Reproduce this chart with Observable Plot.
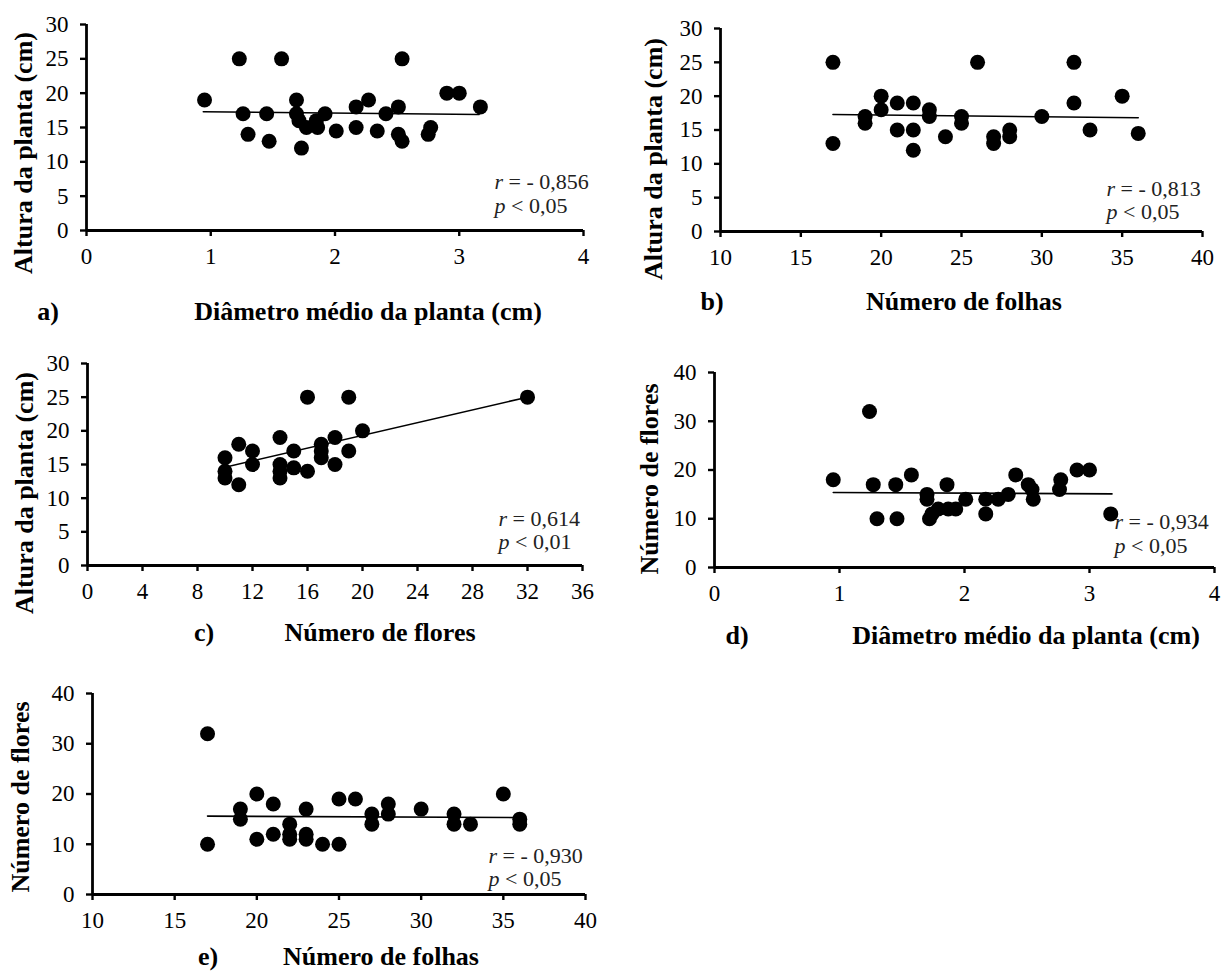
<!DOCTYPE html>
<html>
<head>
<meta charset="utf-8">
<script src="https://cdn.jsdelivr.net/npm/d3@7"></script>
<script src="https://cdn.jsdelivr.net/npm/@observablehq/plot@0.6"></script>
<style>
  html, body { margin: 0; padding: 0; background: #fff; }
  #root { position: relative; width: 1223px; height: 974px; overflow: hidden; font-family: 'Liberation Serif', 'Times New Roman', serif; color: #000; }
  .panel { position: absolute; }
  .lbl { position: absolute; font-weight: bold; font-size: 26px; line-height: 1; white-space: nowrap; transform: translate(-50%, -50%); }
  .ylbl { position: absolute; font-weight: bold; font-size: 26px; line-height: 1; white-space: nowrap; transform: translate(-50%, -50%) rotate(-90deg); }
</style>
</head>
<body>
<div id="root"></div>
<script>
// ---- Data ----
// a) Altura da planta vs Diâmetro médio
const aX = [0.95,1.23,1.57,1.26,1.30,1.45,1.47,1.69,1.69,1.71,1.73,1.77,1.85,1.86,1.92,2.01,2.17,2.17,2.27,2.34,2.41,2.51,2.51,2.54,2.54,2.75,2.77,2.90,3.00,3.17];
const aY = [19,25,25,17,14,17,13,19,17,16,12,15,16,15,17,14.5,18,15,19,14.5,17,18,14,25,13,14,15,20,20,18];
const aFitX = [0.94, 3.16];
const aFitY = [17.3, 16.9];
// b) Altura da planta vs Número de folhas
const bX = [17,17,19,19,20,20,21,21,22,22,22,23,23,24,25,25,26,27,27,28,28,30,32,32,33,35,36];
const bY = [25,13,17,16,20,18,19,15,19,15,12,18,17,14,17,16,25,14,13,15,14,17,25,19,15,20,14.5];
const bFitX = [17, 36];
const bFitY = [17.3, 16.8];
// c) Altura da planta vs Número de flores
const cX = [10,10,10,11,11,12,12,14,14,14,14,15,15,16,16,17,17,17,18,18,19,19,20,32];
const cY = [16,14,13,18,12,17,15,19,15,14,13,17,14.5,25,14,18,17,16,19,15,25,17,20,25];
const cFitX = [10, 32];
const cFitY = [14.6, 25];
// d) Número de flores vs Diâmetro médio
const dX = [0.95,1.24,1.27,1.30,1.45,1.46,1.575,1.70,1.70,1.72,1.74,1.79,1.86,1.87,1.93,2.01,2.17,2.17,2.27,2.35,2.41,2.51,2.54,2.55,2.77,2.76,2.90,3.00,3.17];
const dY = [18,32,17,10,17,10,19,15,14,10,11,12,17,12,12,14,14,11,14,15,19,17,16,14,18,16,20,20,11];
const dFitX = [0.95, 3.18];
const dFitY = [15.4, 15.1];
// e) Número de flores vs Número de folhas
const eX = [17,17,19,19,20,20,21,21,22,22,22,23,23,23,24,25,25,26,27,27,28,28,30,32,32,33,35,36,36];
const eY = [32,10,17,15,20,11,18,12,14,12,11,17,12,11,10,19,10,19,16,14,18,16,17,16,14,14,20,15,14];
const eFitX = [17, 36];
const eFitY = [15.6, 15.3];

// Tick labels
const ticksDiam = [0,1,2,3,4];
const ticksFolhas = [10,15,20,25,30,35,40];
const ticksFlores = [0,4,8,12,16,20,24,28,32,36];
const ticksAltura = [0,5,10,15,20,25,30];
const ticksNFlores = [0,10,20,30,40];

// Texts
const yTitleAltura = "Altura da planta (cm)";
const yTitleFlores = "Número de flores";
const xTitleDiam = "Diâmetro médio da planta (cm)";
const xTitleFolhas = "Número de folhas";
const xTitleFlores = "Número de flores";
const stats = {
  a: ["r", " = - 0,856", "p", " < 0,05"],
  b: ["r", " = - 0,813", "p", " < 0,05"],
  c: ["r", " = 0,614", "p", " < 0,01"],
  d: ["r", " = - 0,934", "p", " < 0,05"],
  e: ["r", " = - 0,930", "p", " < 0,05"]
};

const FONT = "'Liberation Serif', 'Times New Roman', serif";
const root = document.getElementById("root");
const fmt = d => String(d);

function zip(xs, ys) { return xs.map((x, i) => ({x, y: ys[i]})); }

function panel(cfg) {
  const pts = zip(cfg.xs, cfg.ys);
  const fit = zip(cfg.fx, cfg.fy);
  const st = cfg.stats;
  const svg = Plot.plot({
    width: cfg.w, height: cfg.h,
    marginLeft: cfg.ml, marginRight: cfg.mr, marginTop: cfg.mt, marginBottom: cfg.mb,
    x: {domain: [cfg.xt[0], cfg.xt[cfg.xt.length - 1]]},
    y: {domain: [cfg.yt[0], cfg.yt[cfg.yt.length - 1]]},
    style: {fontFamily: FONT, fontSize: "23px", color: "#000", background: "transparent", overflow: "visible"},
    marks: [
      Plot.axisX({ticks: cfg.xt, tickFormat: fmt, tickSize: 6, tickPadding: 11, strokeWidth: 2.4, label: null, fontSize: 23}),
      Plot.axisY({ticks: cfg.yt, tickFormat: fmt, tickSize: 6, tickPadding: 12, strokeWidth: 2.4, label: null, fontSize: 23}),
      Plot.ruleY([cfg.yt[0]], {stroke: "#000", strokeWidth: 2.8}),
      Plot.ruleX([cfg.xt[0]], {stroke: "#000", strokeWidth: 2.8}),
      Plot.line(fit, {x: "x", y: "y", stroke: "#000", strokeWidth: 1.6}),
      Plot.dot(pts, {x: "x", y: "y", r: 7.5, fill: "#000", stroke: "none"}),
      Plot.text([st[0] + st[1]], {frameAnchor: "bottom-right", textAnchor: "start", dx: cfg.adx, dy: cfg.ady1, fontSize: 22, fill: "#222"}),
      Plot.text([st[2] + st[3]], {frameAnchor: "bottom-right", textAnchor: "start", dx: cfg.adx, dy: cfg.ady2, fontSize: 22, fill: "#222"})
    ]
  });
  // italic statistic symbols
  d3.select(svg).selectAll("text").each(function() {
    const t = this.textContent;
    [[st[0], st[1]], [st[2], st[3]]].forEach(([sym, rest]) => {
      if (t === sym + rest) {
        const el = d3.select(this);
        el.selectAll("*").remove();
        el.text(null);
        el.append("tspan").attr("font-style", "italic").text(sym);
        el.append("tspan").text(rest);
      }
    });
  });
  svg.classList.add("panel");
  svg.style.left = cfg.left + "px";
  svg.style.top = cfg.top + "px";
  root.appendChild(svg);

  const add = (cls, text, x, y) => {
    const d = document.createElement("div");
    d.className = cls;
    d.textContent = text;
    d.style.left = x + "px";
    d.style.top = y + "px";
    root.appendChild(d);
  };
  add("ylbl", cfg.ytitle, cfg.yTitlePos[0], cfg.yTitlePos[1]);
  add("lbl", cfg.tag, cfg.tagPos[0], cfg.tagPos[1]);
  add("lbl", cfg.xtitle, cfg.xTitlePos[0], cfg.xTitlePos[1]);
}

// a)
panel({xs: aX, ys: aY, fx: aFitX, fy: aFitY, xt: ticksDiam, yt: ticksAltura, stats: stats.a,
  left: 0, top: 0, w: 600, h: 270, ml: 86, mr: 17, mt: 24, mb: 40,
  adx: -89, ady1: -42, ady2: -18,
  ytitle: yTitleAltura, yTitlePos: [24, 153],
  tag: "a)", tagPos: [48, 312], xtitle: xTitleDiam, xTitlePos: [368, 312]});
// b)
panel({xs: bX, ys: bY, fx: bFitX, fy: bFitY, xt: ticksFolhas, yt: ticksAltura, stats: stats.b,
  left: 600, top: 0, w: 623, h: 270, ml: 120, mr: 21, mt: 28, mb: 39,
  adx: -96, ady1: -36, ady2: -13,
  ytitle: yTitleAltura, yTitlePos: [654, 159],
  tag: "b)", tagPos: [712, 302], xtitle: xTitleFolhas, xTitlePos: [964, 302]});
// c)
panel({xs: cX, ys: cY, fx: cFitX, fy: cFitY, xt: ticksFlores, yt: ticksAltura, stats: stats.c,
  left: 0, top: 330, w: 600, h: 270, ml: 87, mr: 18, mt: 33, mb: 35,
  adx: -84, ady1: -40, ady2: -17,
  ytitle: yTitleAltura, yTitlePos: [25, 493],
  tag: "c)", tagPos: [204, 633], xtitle: xTitleFlores, xTitlePos: [380, 633]});
// d)
panel({xs: dX, ys: dY, fx: dFitX, fy: dFitY, xt: ticksDiam, yt: ticksNFlores, stats: stats.d,
  left: 600, top: 330, w: 623, h: 270, ml: 114, mr: 9, mt: 42, mb: 33,
  adx: -100, ady1: -39, ady2: -15,
  ytitle: yTitleFlores, yTitlePos: [650, 479],
  tag: "d)", tagPos: [737, 636], xtitle: xTitleDiam, xTitlePos: [1026, 636]});
// e)
panel({xs: eX, ys: eY, fx: eFitX, fy: eFitY, xt: ticksFolhas, yt: ticksNFlores, stats: stats.e,
  left: 0, top: 660, w: 600, h: 270, ml: 92, mr: 15, mt: 33, mb: 36,
  adx: -97, ady1: -32, ady2: -9,
  ytitle: yTitleFlores, yTitlePos: [21, 797],
  tag: "e)", tagPos: [208, 957], xtitle: xTitleFolhas, xTitlePos: [381, 957]});
</script>
</body>
</html>
